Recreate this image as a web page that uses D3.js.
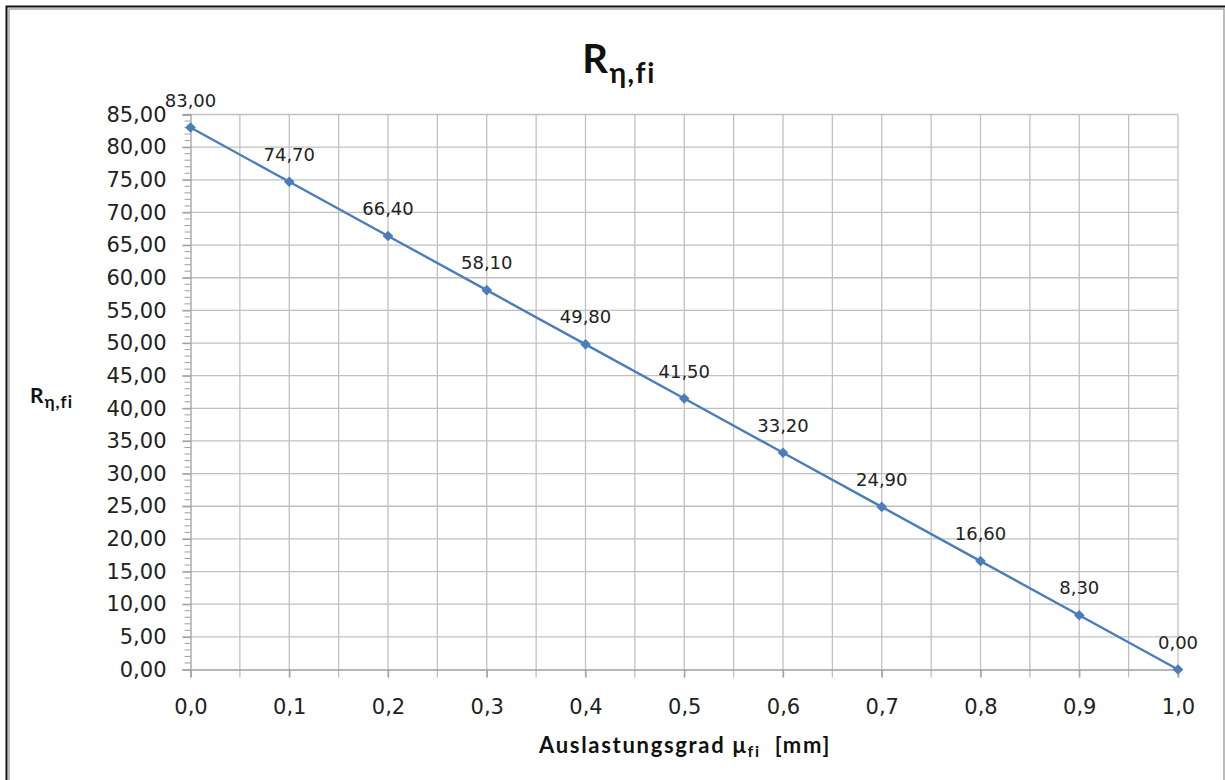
<!DOCTYPE html>
<html>
<head>
<meta charset="utf-8">
<script src="https://cdn.jsdelivr.net/npm/d3@7"></script>
<style>
  body { margin: 0; background: #fff; }
  svg { display: block; }
</style>
</head>
<body>
<div id="chart"></div>
<script>
// data
var xValues = [0.0, 0.1, 0.2, 0.3, 0.4, 0.5, 0.6, 0.7, 0.8, 0.9, 1.0];
var rValues = [83.0, 74.7, 66.4, 58.1, 49.8, 41.5, 33.2, 24.9, 16.6, 8.3, 0.0];
var xTicks = [0, 0.1, 0.2, 0.3, 0.4, 0.5, 0.6, 0.7, 0.8, 0.9, 1.0];
var yTicks = [0, 5, 10, 15, 20, 25, 30, 35, 40, 45, 50, 55, 60, 65, 70, 75, 80, 85];

var W = 1225, H = 780;
var m = { left: 190.5, right: 47, top: 114.5, bottom: 110.5 };
var w = W - m.left - m.right, h = H - m.top - m.bottom;
var font = 'DejaVu Sans, Verdana, sans-serif';
var boldFont = 'Lato, Carlito, sans-serif';
var blue = '#4a7ebb';

var fmt2 = function (d) { return d3.format('.2f')(d).replace('.', ','); };
var fmt1 = function (d) { return d3.format('.1f')(d).replace('.', ','); };

var svg = d3.select('#chart').append('svg')
  .attr('width', W)
  .attr('height', H);

// chart frame
svg.append('rect')
  .attr('x', 6.5).attr('y', 6.5)
  .attr('width', W + 20).attr('height', H + 20)
  .attr('fill', 'none')
  .attr('stroke', '#111')
  .attr('stroke-width', 2);
svg.append('rect')
  .attr('x', 9).attr('y', 9)
  .attr('width', W - 10).attr('height', H + 20)
  .attr('fill', 'none')
  .attr('stroke', '#a6a6a6')
  .attr('stroke-width', 1.5);

var xScale = d3.scaleLinear().domain([0, 1]).range([0, w]);
var yScale = d3.scaleLinear().domain([0, 85]).range([h, 0]);

var g = svg.append('g')
  .attr('transform', 'translate(' + m.left + ',' + m.top + ')');

// gridlines
var xGrid = d3.range(0, 21).map(function (i) { return i * 0.05; });
g.append('g').selectAll('line')
  .data(xGrid.slice(1))
  .enter().append('line')
  .attr('x1', function (d) { return xScale(d); })
  .attr('x2', function (d) { return xScale(d); })
  .attr('y1', 0).attr('y2', h + 8)
  .attr('stroke', '#c0c0c0')
  .attr('stroke-width', 1.3);

g.append('g').selectAll('line')
  .data(yTicks.slice(1))
  .enter().append('line')
  .attr('x1', -8).attr('x2', w)
  .attr('y1', function (d) { return yScale(d); })
  .attr('y2', function (d) { return yScale(d); })
  .attr('stroke', '#c0c0c0')
  .attr('stroke-width', 1.3);

// y minor ticks
g.append('g').selectAll('line')
  .data(d3.range(1, 85).filter(function (d) { return d % 5 !== 0; }))
  .enter().append('line')
  .attr('x1', -6).attr('x2', 0)
  .attr('y1', function (d) { return yScale(d); })
  .attr('y2', function (d) { return yScale(d); })
  .attr('stroke', '#a0a0a0')
  .attr('stroke-width', 1);

// axes
var yAxis = d3.axisLeft(yScale).tickValues(yTicks).tickFormat(fmt2).tickSize(8).tickPadding(16);
var yg = g.append('g').attr('class', 'yaxis').call(yAxis);
yg.select('.domain').attr('stroke', '#a0a0a0').attr('stroke-width', 1.3);
yg.selectAll('.tick line').attr('stroke', '#a0a0a0').attr('stroke-width', 1.3);
yg.selectAll('.tick text')
  .attr('font-family', font).attr('font-size', 21).attr('fill', '#222');

var xAxis = d3.axisBottom(xScale).tickValues(xTicks).tickFormat(fmt1).tickSize(8).tickPadding(22);
var xg = g.append('g').attr('class', 'xaxis')
  .attr('transform', 'translate(0,' + h + ')')
  .call(xAxis);
xg.select('.domain').attr('stroke', '#a0a0a0').attr('stroke-width', 1.3);
xg.selectAll('.tick line').attr('stroke', '#a0a0a0').attr('stroke-width', 1.3);
xg.selectAll('.tick text')
  .attr('font-family', font).attr('font-size', 21).attr('fill', '#222');

// series
var pts = xValues.map(function (x, i) { return { x: x, y: rValues[i] }; });
var line = d3.line()
  .x(function (d) { return xScale(d.x); })
  .y(function (d) { return yScale(d.y); });

g.append('path')
  .datum(pts)
  .attr('d', line)
  .attr('fill', 'none')
  .attr('stroke', blue)
  .attr('stroke-width', 2.4);

g.append('g').selectAll('path')
  .data(pts)
  .enter().append('path')
  .attr('d', d3.symbol().type(d3.symbolDiamond2).size(72))
  .attr('transform', function (d) { return 'translate(' + xScale(d.x) + ',' + yScale(d.y) + ')'; })
  .attr('fill', blue);

g.append('g').selectAll('text')
  .data(pts)
  .enter().append('text')
  .attr('x', function (d) { return xScale(d.x); })
  .attr('y', function (d) { return yScale(d.y) - 21; })
  .attr('text-anchor', 'middle')
  .attr('font-family', font)
  .attr('font-size', 18)
  .attr('fill', '#222')
  .text(function (d) { return fmt2(d.y); });

// title
var title = svg.append('text')
  .attr('x', 619).attr('y', 73)
  .attr('text-anchor', 'middle')
  .attr('font-family', boldFont)
  .attr('font-weight', 'bold')
  .attr('letter-spacing', 1.5)
  .attr('fill', '#111');
title.append('tspan').attr('font-size', 40).text('R');
title.append('tspan').attr('font-size', 28).attr('dy', 10).text('η,fi');

// y label
var ylabel = svg.append('text')
  .attr('x', 30).attr('y', 403)
  .attr('font-family', boldFont)
  .attr('font-weight', 'bold')
  .attr('letter-spacing', 1)
  .attr('fill', '#111');
ylabel.append('tspan').attr('font-size', 21).text('R');
ylabel.append('tspan').attr('font-size', 17).attr('dy', 5).text('η,fi');

// x label
var xlabel = svg.append('text')
  .attr('x', 685).attr('y', 753)
  .attr('text-anchor', 'middle')
  .attr('font-family', boldFont)
  .attr('font-weight', 'bold')
  .attr('letter-spacing', 1.7)
  .attr('xml:space', 'preserve')
  .attr('fill', '#111');
xlabel.append('tspan').attr('font-size', 22).text('Auslastungsgrad μ');
xlabel.append('tspan').attr('font-size', 16).attr('dy', 4).text('fi');
xlabel.append('tspan').attr('font-size', 22).attr('dy', -4).text('  [mm]');
</script>
</body>
</html>
